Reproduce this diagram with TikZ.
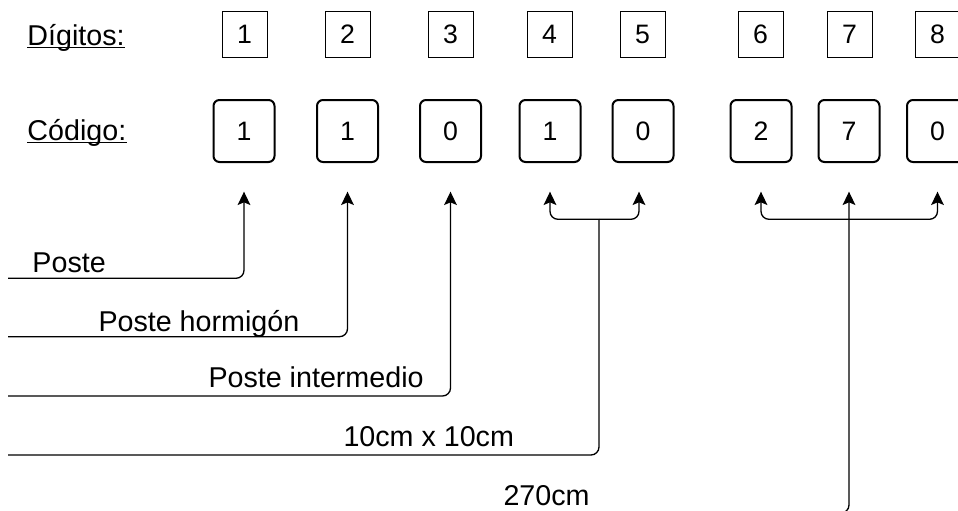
\documentclass[tikz,border=0pt]{standalone}
\usepackage{fontspec}
\setmainfont{Liberation Sans}
\usetikzlibrary{arrows.meta}

\tikzset{every picture/.style={line width=0.75pt}}

\begin{document}
\begin{tikzpicture}[x=0.75pt,y=0.75pt,yscale=-1,xscale=1,
  digitbox/.style={draw, inner sep=0, minimum width=33.75pt, minimum height=34.5pt, font=\fontsize{20}{24}\selectfont},
  codebox/.style={draw, line width=1.5pt, rounded corners=4.5pt, inner sep=0, minimum width=45.75pt, minimum height=46.5pt, font=\fontsize{20}{24}\selectfont},
  desc/.style={inner sep=0, font=\fontsize{21.5}{26}\selectfont},
  link/.style={line width=1pt, -{Stealth[length=10pt,width=9.5pt,inset=2pt]}, rounded corners=6pt, shorten >=21.5pt}]
\useasboundingbox (0,0) rectangle (958,511);
\clip (0,0) rectangle (958,511);

% Row titles
\node [desc, anchor=base west] (digitos) at (27,45) {Dígitos:};
\draw ([yshift=1.5pt]digitos.base west) -- ([yshift=1.5pt]digitos.base east);
\node [desc, anchor=base west] (codigo) at (27,140) {Código:};
\draw ([yshift=1.5pt]codigo.base west) -- ([yshift=1.5pt]codigo.base east);

% Digit positions
\foreach \n/\x in {1/244.5,2/347.5,3/450.5,4/549.5,5/642.5,6/760.5,7/849.5,8/937.5}
  \node [digitbox] (d\n) at (\x,34.5) {\n};

% Code values
\foreach \n/\x/\v in {1/244/1,2/347.5/1,3/450.5/0,4/550/1,5/643/0,6/761/2,7/849/7,8/937.5/0}
  \node [codebox] (c\n) at (\x,131) {\v};

% Text Node
\node [desc, anchor=base west] (poste) at (32,272) {Poste};
\node [desc, anchor=base west] (hormigon) at (98,331.7) {Poste hormigón};
\node [desc, anchor=base west] (intermedio) at (208,387.3) {Poste intermedio};
\node [desc, anchor=base west] (seccion) at (343,446.7) {10cm x 10cm};
\node [desc, anchor=base west] (altura) at (503,505) {270cm};

% Leader lines
\coordinate (poste line) at (8,278.3);
\coordinate (hormigon line) at (8,336.7);
\coordinate (intermedio line) at (8,396);
\coordinate (seccion line) at (8,455);
\coordinate (seccion split) at (599,219.3);
\coordinate (altura line) at (8,513);
\coordinate (altura split) at (849,219.3);

\draw [link] (poste line) -| (c1.south);
\draw [link] (hormigon line) -| (c2.south);
\draw [link] (intermedio line) -| (c3.south);

\draw [line width=1pt, rounded corners=6pt] (seccion line) -| (seccion split);
\draw [link] (seccion split) -| (c4.south);
\draw [link] (seccion split) -| ([xshift=-3pt]c5.south);

\draw [link] (altura line) -| (c7.south);
\draw [link] (altura split) -| (c6.south);
\draw [link] (altura split) -| (c8.south);

\end{tikzpicture}
\end{document}
